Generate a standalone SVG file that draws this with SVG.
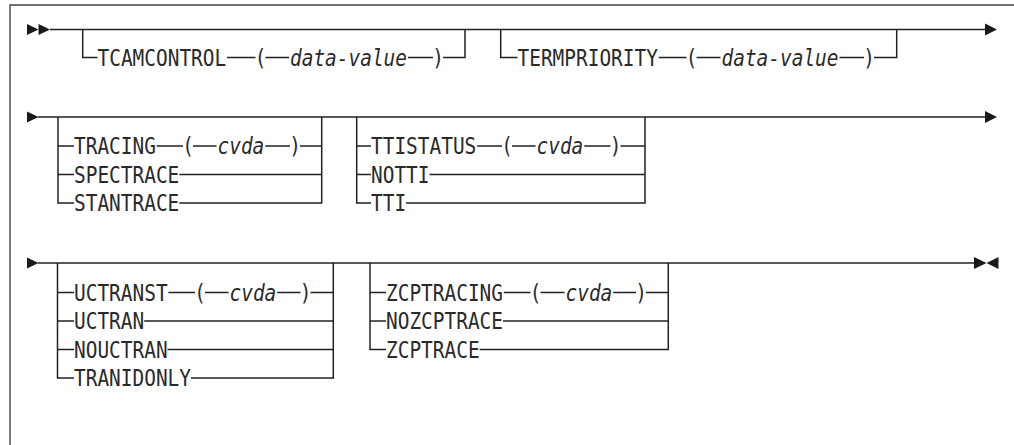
<svg xmlns="http://www.w3.org/2000/svg" width="1014" height="445" viewBox="0 0 1014 445">
<style>
.kw{font-family:"DejaVu Sans Mono","Liberation Mono",monospace;font-size:22.5px;fill:#2a2a2a}
.it{font-family:"DejaVu Sans Mono","Liberation Mono",monospace;font-size:22.5px;font-style:italic;fill:#2a2a2a}
.ln{fill:none;stroke:#222;stroke-width:1.5}
.ar{fill:#1a1a1a}
.fr{fill:none;stroke:#444;stroke-width:1.4}
</style>
<rect width="1014" height="445" fill="#fff"/>
<path class="fr" d="M10,445 V5 H1014"/>

<g id="connectors">
  <!-- row 1 -->
  <path class="ln" d="M50,29.5 H986"/>
  <path class="ln" d="M82.7,29.5 V57.5 H97.5"/>
  <path class="ln" d="M227,57.5 H255.5 M265.5,57.5 H289 M408,57.5 H433"/>
  <path class="ln" d="M443,57.5 H465 V29.5"/>
  <path class="ln" d="M500.7,29.5 V57.5 H517.5"/>
  <path class="ln" d="M658.7,57.5 H686.5 M696.5,57.5 H720.5 M839.5,57.5 H864"/>
  <path class="ln" d="M874,57.5 H896.7 V29.5"/>
  <!-- row 2 -->
  <path class="ln" d="M38,117 H986"/>
  <path class="ln" d="M58,117 V203 H74 M58,146 H74 M58,174.5 H74"/>
  <path class="ln" d="M156.7,146 H183 M193,146 H216.5 M265.3,146 H290 M300,146 H321.7"/>
  <path class="ln" d="M321.7,117 V203 H179.3 M321.7,174.5 H179.3"/>
  <path class="ln" d="M356.7,117 V203 H371 M356.7,146 H371 M356.7,174.5 H371"/>
  <path class="ln" d="M477.1,146 H502 M512,146 H535.5 M584.3,146 H610.5 M620.5,146 H645"/>
  <path class="ln" d="M645,117 V203 H406.1 M645,174.5 H429.5"/>
  <!-- row 3 -->
  <path class="ln" d="M38,263 H975"/>
  <path class="ln" d="M57.5,263 V378 H74 M57.5,292.5 H74 M57.5,321 H74 M57.5,349.5 H74"/>
  <path class="ln" d="M168.4,292.5 H195 M205,292.5 H228.5 M277.3,292.5 H300.5 M310.5,292.5 H333.3"/>
  <path class="ln" d="M333.3,263 V378 H191 M333.3,321 H144.2 M333.3,349.5 H167.6"/>
  <path class="ln" d="M370,263 V349.5 H386 M370,292.5 H386 M370,321 H386"/>
  <path class="ln" d="M503.8,292.5 H530.5 M540.5,292.5 H564.5 M613.3,292.5 H636 M646,292.5 H668.3"/>
  <path class="ln" d="M668.3,263 V349.5 H479.6 M668.3,321 H503"/>
  <!-- arrowheads -->
  <polygon class="ar" points="27,24 38.5,29.5 27,35"/>
  <polygon class="ar" points="38.5,24 50,29.5 38.5,35"/>
  <polygon class="ar" points="985,23.5 997,29.5 985,35.5"/>
  <polygon class="ar" points="27,111.5 38.5,117 27,122.5"/>
  <polygon class="ar" points="985,111 997,117 985,123"/>
  <polygon class="ar" points="27,257.5 38.5,263 27,268.5"/>
  <polygon class="ar" points="974,257 986.5,263 974,269"/>
  <polygon class="ar" points="998.5,257 986.5,263 998.5,269"/>
</g>

<g id="tcamcontrol">
  <text class="kw" x="97.5" y="65.7" textLength="128.7" lengthAdjust="spacingAndGlyphs">TCAMCONTROL</text>
  <text class="kw" x="254.65" y="65.7" textLength="11.7" lengthAdjust="spacingAndGlyphs">(</text>
  <text class="it" x="290" y="65.7" textLength="117" lengthAdjust="spacingAndGlyphs">data-value</text>
  <text class="kw" x="432.15" y="65.7" textLength="11.7" lengthAdjust="spacingAndGlyphs">)</text>
</g>
<g id="termpriority">
  <text class="kw" x="517.5" y="65.7" textLength="140.4" lengthAdjust="spacingAndGlyphs">TERMPRIORITY</text>
  <text class="kw" x="685.65" y="65.7" textLength="11.7" lengthAdjust="spacingAndGlyphs">(</text>
  <text class="it" x="721.5" y="65.7" textLength="117" lengthAdjust="spacingAndGlyphs">data-value</text>
  <text class="kw" x="863.15" y="65.7" textLength="11.7" lengthAdjust="spacingAndGlyphs">)</text>
</g>

<g id="tracing">
  <text class="kw" x="74" y="154.2" textLength="81.9" lengthAdjust="spacingAndGlyphs">TRACING</text>
  <text class="kw" x="182.15" y="154.2" textLength="11.7" lengthAdjust="spacingAndGlyphs">(</text>
  <text class="it" x="217.5" y="154.2" textLength="46.8" lengthAdjust="spacingAndGlyphs">cvda</text>
  <text class="kw" x="289.15" y="154.2" textLength="11.7" lengthAdjust="spacingAndGlyphs">)</text>
</g>
<g id="spectrace"><text class="kw" x="74" y="182.7" textLength="105.3" lengthAdjust="spacingAndGlyphs">SPECTRACE</text></g>
<g id="stantrace"><text class="kw" x="74" y="211.2" textLength="105.3" lengthAdjust="spacingAndGlyphs">STANTRACE</text></g>

<g id="ttistatus">
  <text class="kw" x="371" y="154.2" textLength="105.3" lengthAdjust="spacingAndGlyphs">TTISTATUS</text>
  <text class="kw" x="501.15" y="154.2" textLength="11.7" lengthAdjust="spacingAndGlyphs">(</text>
  <text class="it" x="536.5" y="154.2" textLength="46.8" lengthAdjust="spacingAndGlyphs">cvda</text>
  <text class="kw" x="609.65" y="154.2" textLength="11.7" lengthAdjust="spacingAndGlyphs">)</text>
</g>
<g id="notti"><text class="kw" x="371" y="182.7" textLength="58.5" lengthAdjust="spacingAndGlyphs">NOTTI</text></g>
<g id="tti"><text class="kw" x="371" y="211.2" textLength="35.1" lengthAdjust="spacingAndGlyphs">TTI</text></g>

<g id="uctranst">
  <text class="kw" x="74" y="300.7" textLength="93.6" lengthAdjust="spacingAndGlyphs">UCTRANST</text>
  <text class="kw" x="194.15" y="300.7" textLength="11.7" lengthAdjust="spacingAndGlyphs">(</text>
  <text class="it" x="229.5" y="300.7" textLength="46.8" lengthAdjust="spacingAndGlyphs">cvda</text>
  <text class="kw" x="299.65" y="300.7" textLength="11.7" lengthAdjust="spacingAndGlyphs">)</text>
</g>
<g id="uctran"><text class="kw" x="74" y="329.2" textLength="70.2" lengthAdjust="spacingAndGlyphs">UCTRAN</text></g>
<g id="nouctran"><text class="kw" x="74" y="357.7" textLength="93.6" lengthAdjust="spacingAndGlyphs">NOUCTRAN</text></g>
<g id="tranidonly"><text class="kw" x="74" y="386.2" textLength="117" lengthAdjust="spacingAndGlyphs">TRANIDONLY</text></g>

<g id="zcptracing">
  <text class="kw" x="386" y="300.7" textLength="117" lengthAdjust="spacingAndGlyphs">ZCPTRACING</text>
  <text class="kw" x="529.65" y="300.7" textLength="11.7" lengthAdjust="spacingAndGlyphs">(</text>
  <text class="it" x="565.5" y="300.7" textLength="46.8" lengthAdjust="spacingAndGlyphs">cvda</text>
  <text class="kw" x="635.15" y="300.7" textLength="11.7" lengthAdjust="spacingAndGlyphs">)</text>
</g>
<g id="nozcptrace"><text class="kw" x="386" y="329.2" textLength="117" lengthAdjust="spacingAndGlyphs">NOZCPTRACE</text></g>
<g id="zcptrace"><text class="kw" x="386" y="357.7" textLength="93.6" lengthAdjust="spacingAndGlyphs">ZCPTRACE</text></g>
</svg>
